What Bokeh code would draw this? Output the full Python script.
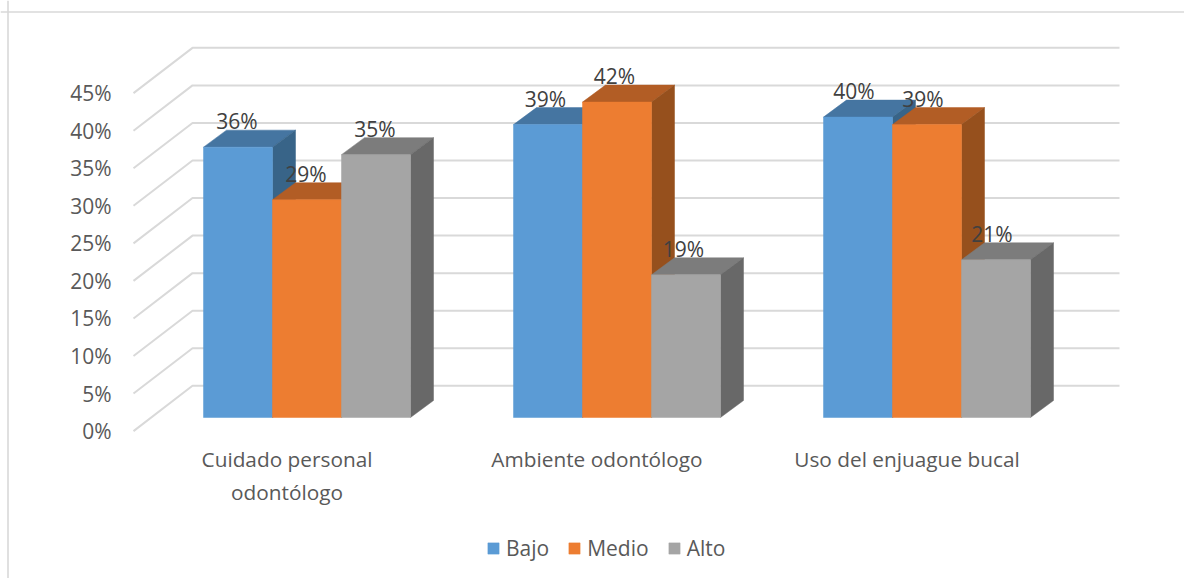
from bokeh.plotting import figure
from bokeh.models import LinearAxis, FixedTicker, Span, ColumnDataSource, Range1d
from bokeh.core.properties import value
from bokeh.embed import file_html
from bokeh.resources import INLINE

categories = ["Cuidado personal\nodontólogo", "Ambiente odontólogo", "Uso del enjuague bucal"]
series = ["Bajo", "Medio", "Alto"]
bajo = [36, 39, 40]
medio = [29, 42, 39]
alto = [35, 19, 21]
y_ticks = [0, 5, 10, 15, 20, 25, 30, 35, 40, 45]

front = ["#5B9BD5", "#ED7D31", "#A5A5A5"]
tops = ["#4575A1", "#B25D25", "#7C7C7C"]
sides = ["#386488", "#96501D", "#686868"]

FONT = "Open Sans"
W, H = 1184, 578
ORIGIN = 0        # where the figure's corner lands in the picture
PX_X = 310.0      # px per category
PX_Y = 7.51       # px per percentage point
X0 = 306.5        # picture x of first group centre
Y0 = 430.6        # picture y of the value 0 on the front plane

def ux(px):
    return px / PX_X

def uy(px):
    return px / PX_Y

p = figure(width=W, height=H, output_backend="svg", toolbar_location=None,
           x_axis_type=None, y_axis_type=None, min_border=0,
           x_range=Range1d((ORIGIN - X0) / PX_X, (ORIGIN + W - X0) / PX_X),
           y_range=Range1d((Y0 - (ORIGIN + H)) / PX_Y, (Y0 - ORIGIN) / PX_Y),
           outline_line_color=None, background_fill_color="white")
p.grid.visible = False

# chart frame
p.add_layout(Span(location=(Y0 - 11.5) / PX_Y, dimension="width", line_color="#D9D9D9", line_width=1.3))
p.add_layout(Span(location=(7.5 - X0) / PX_X, dimension="height", line_color="#D9D9D9", line_width=1.6))

# walls
wall_dx, wall_dy = ux(59), uy(45.3)
wall_left, wall_right = ux(133 - X0), ux(1119 - X0)
p.multi_line(
    xs=[[wall_left, wall_left + wall_dx, wall_right] for _ in y_ticks],
    ys=[[v, v + wall_dy, v + wall_dy] for v in y_ticks],
    line_color="#D9D9D9", line_width=2)

# bars
bar_w = ux(69)
depth_x, depth_y = ux(23), uy(17)
base = uy(Y0 - 417)
values = [bajo, medio, alto]
for s, name in enumerate(series):
    lefts = [i + (s - 1.5) * bar_w for i in range(len(categories))]
    rights = [l + bar_w for l in lefts]
    hs = [base + v for v in values[s]]
    p.patches(
        xs=[[l, r, r + depth_x, l + depth_x] for l, r in zip(lefts, rights)],
        ys=[[h, h, h + depth_y, h + depth_y] for h in hs],
        fill_color=tops[s], line_color=tops[s], line_width=0.5)
    p.patches(
        xs=[[r, r + depth_x, r + depth_x, r] for r in rights],
        ys=[[base, base + depth_y, h + depth_y, h] for h in hs],
        fill_color=sides[s], line_color=sides[s], line_width=0.5)
    p.quad(left=lefts, right=rights, bottom=base, top=hs,
           fill_color=front[s], line_color=front[s], line_width=0.5, legend_label=name)

# data labels
label_pitch = 308.5 / PX_X
for s in range(3):
    src = ColumnDataSource(dict(
        x=[i * label_pitch + (s - 1) * bar_w for i in range(3)],
        y=[base + v for v in values[s]],
        t=[f"{v}%" for v in values[s]]))
    p.text(x="x", y="y", text="t", source=src, text_align="center", text_baseline="middle",
           x_offset=-1, y_offset=-26, text_font=value(FONT), text_font_size="21px", text_color="#404040")

# value axis
yax = LinearAxis(fixed_location=ux(119 - X0), ticker=FixedTicker(ticks=y_ticks),
                 major_label_overrides={v: f"{v}%" for v in y_ticks},
                 axis_line_color=None, major_tick_line_color=None, minor_tick_line_color=None,
                 major_tick_out=0, major_tick_in=0, major_label_standoff=8,
                 major_label_text_font=FONT, major_label_text_font_size="21px",
                 major_label_text_color="#595959")
p.add_layout(yax, "left")

# category axis
tick_shift = ux(-20)
cat_ticks = [i + tick_shift for i in range(3)]
xax = LinearAxis(fixed_location=uy(Y0 - 436), ticker=FixedTicker(ticks=cat_ticks),
                 major_label_overrides=dict(zip(cat_ticks, categories)),
                 axis_line_color=None, major_tick_line_color=None, minor_tick_line_color=None,
                 major_tick_out=0, major_tick_in=0, major_label_standoff=8,
                 major_label_text_font=FONT, major_label_text_font_size="20.8px",
                 major_label_text_color="#595959")
p.add_layout(xax, "below")

# legend
p.legend.location = (486, 16)
p.legend.orientation = "horizontal"
p.legend.glyph_width = 14
p.legend.glyph_height = 14
p.legend.label_standoff = 6
p.legend.spacing = 18
p.legend.padding = 0
p.legend.margin = 0
p.legend.border_line_color = None
p.legend.background_fill_alpha = 0
p.legend.label_text_font = FONT
p.legend.label_text_font_size = "21px"
p.legend.label_text_color = "#595959"

open("out.html", "w").write(file_html(p, INLINE))
